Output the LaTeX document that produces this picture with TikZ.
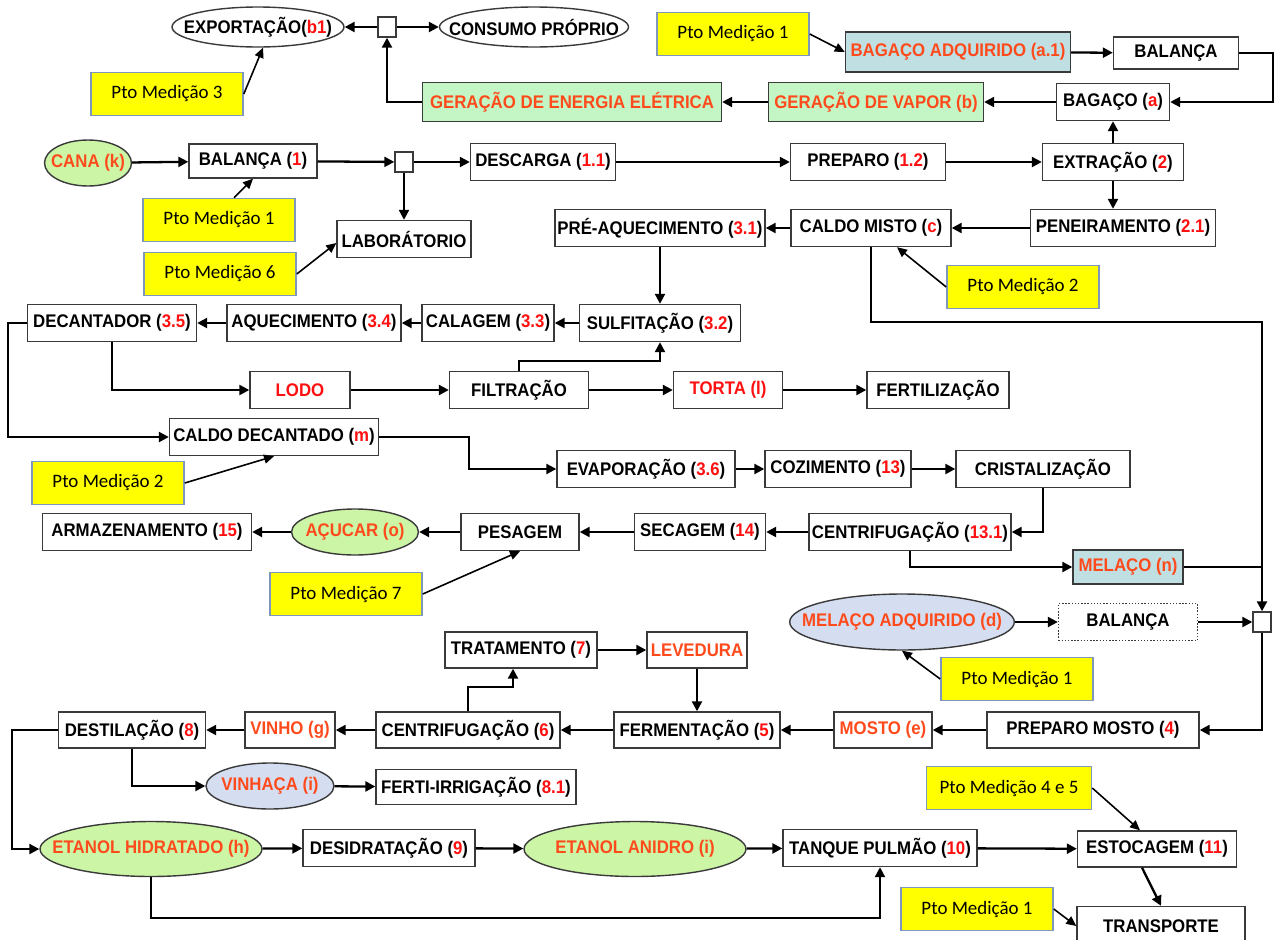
\documentclass[tikz,border=0pt]{standalone}
\usepackage{fontspec}
\setmainfont{Liberation Sans}[FakeStretch=0.92]
\newfontfamily\ptofamily{Carlito}
\usepackage{tikz}
\usetikzlibrary{
arrows.meta,
shapes.geometric,
calc
}
\definecolor{USNLine}{HTML}{3A3A3A}
\definecolor{USNRed}{HTML}{FF1010}
\definecolor{USNOrange}{HTML}{FF4A1C}
\definecolor{USNGreenBG}{HTML}{C4F5C4}
\definecolor{USNLime}{HTML}{CCF5A6}
\definecolor{USNTeal}{HTML}{BFDFE3}
\definecolor{USNLav}{HTML}{D5DEF0}
\definecolor{USNYellow}{HTML}{FFFF00}
\definecolor{USNPtoEdge}{HTML}{7F97BD}
\newcommand{\usnfont}{\fontsize{10.4}{12}\selectfont\bfseries}
\newcommand{\rednum}[1]{\textcolor{USNRed}{#1}}
\tikzset{
usnbox/.style={draw=USNLine, line width=0.8pt, fill=white, inner sep=0pt, align=center,
  minimum height=0.74cm, font=\usnfont},
usngreen/.style={usnbox, fill=USNGreenBG, text=USNOrange},
usnteal/.style={usnbox, fill=USNTeal, text=USNOrange},
usnoval/.style={ellipse, draw=USNLine, line width=0.8pt, fill=USNLime, inner ysep=0pt,
  inner xsep=-0.41cm, minimum height=0.92cm, font=\usnfont, text=USNOrange},
usnlav/.style={usnoval, fill=USNLav},
usnpto/.style={draw=USNPtoEdge, line width=0.9pt, fill=USNYellow, inner sep=0pt,
  minimum width=3.04cm, minimum height=0.86cm, font=\ptofamily\fontsize{10.8}{12}\selectfont},
usnjun/.style={draw=USNLine, line width=0.8pt, fill=white, inner sep=0pt,
  minimum width=0.36cm, minimum height=0.4cm},
usnflow/.style={-{Triangle[length=2mm, width=2mm]}, line width=1.3pt, draw=black},
usnline/.style={line width=1.3pt, draw=black},
usnpoint/.style={-{Triangle[length=2mm, width=1.8mm]}, line width=0.9pt, draw=black}
}

\begin{document}
\begin{tikzpicture}[x=0.02cm, y=-0.02cm]
\useasboundingbox (0,0) rectangle (1275,940);

\node[usnoval, fill=white, text=black, minimum width=3.44cm, minimum height=0.8cm] (expo) at (258,27) {EXPORTAÇÃO(\rednum{b1})};
\node[usnjun] (junA) at (387,27) {};
\node[usnoval, fill=white, text=black, minimum width=3.78cm, minimum height=0.8cm] (consumo) at (534,27) {CONSUMO PRÓPRIO};
\node[usnpto] (pto3) at (167,94) {Pto Medição 3};
\node[usnpto] (ptoA) at (733,34) {Pto Medição 1};
\node[usnteal, minimum width=4.5cm, minimum height=0.8cm] (bagadq) at (958,52) {BAGAÇO ADQUIRIDO (a.1)};
\node[usnbox, minimum width=2.5cm, minimum height=0.64cm] (balA) at (1176,53) {BALANÇA};
\node[usngreen, minimum width=5.98cm, minimum height=0.78cm] (energia) at (572,102) {GERAÇÃO DE ENERGIA ELÉTRICA};
\node[usngreen, minimum width=4.3cm, minimum height=0.78cm] (vapor) at (876,102) {GERAÇÃO DE VAPOR (b)};
\node[usnbox, minimum width=2.26cm] (bagaco) at (1113,102) {BAGAÇO (\rednum{a})};

\node[usnoval, minimum width=1.74cm] (cana) at (88,163) {CANA (k)};
\node[usnbox, minimum width=2.56cm, minimum height=0.68cm] (balB) at (253,161) {BALANÇA (\rednum{1})};
\node[usnjun] (junB) at (404,162) {};
\node[usnbox, minimum width=2.9cm] (descarga) at (543,162) {DESCARGA (\rednum{1.1})};
\node[usnbox, minimum width=3.1cm] (preparo) at (868,162) {PREPARO (\rednum{1.2})};
\node[usnbox, minimum width=2.82cm] (extracao) at (1113,162) {EXTRAÇÃO (\rednum{2})};
\node[usnpto] (ptoB) at (219,220) {Pto Medição 1};
\node[usnbox, minimum width=2.68cm] (lab) at (404,239) {LABORÁTORIO};
\node[usnpto] (pto6) at (220,274) {Pto Medição 6};
\node[usnbox, minimum width=4.2cm] (preaq) at (660,228) {PRÉ-AQUECIMENTO (\rednum{3.1})};
\node[usnbox, minimum width=3.2cm] (caldomisto) at (871,228) {CALDO MISTO (\rednum{c})};
\node[usnbox, minimum width=3.7cm] (peneira) at (1123,228) {PENEIRAMENTO (\rednum{2.1})};
\node[usnpto] (ptoC) at (1023,287) {Pto Medição 2};

\node[usnbox, minimum width=3.38cm] (decant) at (112,323) {DECANTADOR (\rednum{3.5})};
\node[usnbox, minimum width=3.48cm] (aquec) at (314,323) {AQUECIMENTO (\rednum{3.4})};
\node[usnbox, minimum width=2.64cm] (calag) at (488,323) {CALAGEM (\rednum{3.3})};
\node[usnbox, minimum width=3.22cm] (sulf) at (660,323) {SULFITAÇÃO (\rednum{3.2})};
\node[usnbox, minimum width=2cm, text=USNRed] (lodo) at (300,390) {LODO};
\node[usnbox, minimum width=2.78cm] (filtr) at (519,390) {FILTRAÇÃO};
\node[usnbox, minimum width=2.18cm, text=USNRed] (torta) at (728,390) {TORTA (l)};
\node[usnbox, minimum width=2.84cm] (fertil) at (938,390) {FERTILIZAÇÃO};
\node[usnbox, minimum width=4.18cm] (caldodec) at (274,437) {CALDO DECANTADO (\rednum{m})};
\node[usnpto] (ptoD) at (108,483) {Pto Medição 2};
\node[usnbox, minimum width=3.56cm] (evap) at (646,469) {EVAPORAÇÃO (\rednum{3.6})};
\node[usnbox, minimum width=2.92cm] (cozim) at (838,469) {COZIMENTO (\rednum{13})};
\node[usnbox, minimum width=3.48cm] (crist) at (1043,469) {CRISTALIZAÇÃO};

\node[usnbox, minimum width=4.18cm] (armaz) at (147,532) {ARMAZENAMENTO (\rednum{15})};
\node[usnoval, minimum width=2.54cm] (acucar) at (355,532) {AÇUCAR (o)};
\node[usnbox, minimum width=2.36cm] (pesag) at (520,532) {PESAGEM};
\node[usnbox, minimum width=2.62cm] (secag) at (700,532) {SECAGEM (\rednum{14})};
\node[usnbox, minimum width=4.04cm] (centA) at (910,532) {CENTRIFUGAÇÃO (\rednum{13.1})};
\node[usnpto] (pto7) at (346,594) {Pto Medição 7};
\node[usnteal, minimum width=2.2cm, minimum height=0.68cm] (melaco) at (1128,567) {MELAÇO (n)};
\node[usnlav, minimum width=4.4cm, minimum height=1.12cm] (melacoadq) at (902,622) {MELAÇO ADQUIRIDO (d)};
\node[usnbox, densely dotted, minimum width=2.78cm] (balC) at (1128,622) {BALANÇA};
\node[usnjun] (junC) at (1262,622) {};
\node[usnpto] (ptoE) at (1017,679) {Pto Medição 1};

\node[usnbox, minimum width=3.04cm, minimum height=0.72cm] (tratam) at (521,650) {TRATAMENTO (\rednum{7})};
\node[usnbox, minimum width=2cm, minimum height=0.72cm, text=USNOrange] (levedura) at (697,650) {LEVEDURA};
\node[usnbox, minimum width=2.94cm, minimum height=0.72cm] (destil) at (132,730) {DESTILAÇÃO (\rednum{8})};
\node[usnbox, minimum width=1.8cm, minimum height=0.72cm, text=USNOrange] (vinho) at (290,730) {VINHO (g)};
\node[usnbox, minimum width=3.68cm, minimum height=0.72cm] (centB) at (468,730) {CENTRIFUGAÇÃO (\rednum{6})};
\node[usnbox, minimum width=3.32cm, minimum height=0.72cm] (ferment) at (697,730) {FERMENTAÇÃO (\rednum{5})};
\node[usnbox, minimum width=1.96cm, minimum height=0.72cm, text=USNOrange] (mosto) at (883,730) {MOSTO (e)};
\node[usnbox, minimum width=4.24cm, minimum height=0.72cm] (prepmosto) at (1093,730) {PREPARO MOSTO (\rednum{4})};
\node[usnlav, minimum width=2.56cm] (vinhaca) at (270,786) {VINHAÇA (i)};
\node[usnbox, minimum width=4cm, minimum height=0.7cm] (fertirr) at (476,787) {FERTI-IRRIGAÇÃO (\rednum{8.1})};
\node[usnpto, minimum width=3.3cm] (pto45) at (1009,788) {Pto Medição 4 e 5};

\node[usnoval, minimum width=4.44cm, minimum height=1.1cm] (etanolh) at (151,849) {ETANOL HIDRATADO (h)};
\node[usnbox, minimum width=3.44cm] (desidr) at (389,848) {DESIDRATAÇÃO (\rednum{9})};
\node[usnoval, minimum width=4.44cm, minimum height=1.1cm] (etanola) at (635,849) {ETANOL ANIDRO (i)};
\node[usnbox, minimum width=3.88cm] (tanque) at (880,848) {TANQUE PULMÃO (\rednum{10})};
\node[usnbox, minimum width=3.18cm, minimum height=0.72cm] (estoc) at (1157,849) {ESTOCAGEM (\rednum{11})};
\node[usnpto] (ptoF) at (977,909) {Pto Medição 1};
\node[usnbox, minimum width=3.36cm, minimum height=0.78cm] (transp) at (1161,926) {TRANSPORTE};

\coordinate (bendC) at (1262,322);

\draw[usnflow] (junA) -- (expo);
\draw[usnflow] (junA) -- (consumo);
\draw[usnflow] (energia.west) -| (junA.south);
\draw[usnpoint] (pto3.east) -- ($(expo.south)+(5,0)$);
\draw[usnpoint] (ptoA.east) -- (bagadq.west);
\draw[usnflow] (bagadq) -- (balA);
\draw[usnflow] (balA.east) -- ++(34,0) |- (bagaco.east);
\draw[usnflow] (bagaco) -- (vapor);
\draw[usnflow] (vapor) -- (energia);

\draw[usnflow] (cana) -- (balB);
\draw[usnflow] (balB) -- (junB);
\draw[usnflow] (junB) -- (descarga);
\draw[usnflow] (junB) -- (lab);
\draw[usnpoint] ($(ptoB.north)+(15,0)$) -- (balB.south);
\draw[usnpoint] (pto6.east) -- ($(lab.west)+(0,4)$);
\draw[usnflow] (descarga) -- (preparo);
\draw[usnflow] (preparo) -- (extracao);
\draw[usnflow] (extracao) -- (bagaco);
\draw[usnflow] (extracao.south) -- (extracao.south |- peneira.north);
\draw[usnflow] (peneira) -- (caldomisto);
\draw[usnflow] (caldomisto) -- (preaq);
\draw[usnflow] (preaq) -- (sulf);
\draw[usnpoint] (ptoC.west) -- ($(caldomisto.south)+(26,0)$);
\draw[usnflow] (caldomisto.south) |- (bendC) -- (junC.north);

\draw[usnflow] (sulf) -- (calag);
\draw[usnflow] (calag) -- (aquec);
\draw[usnflow] (aquec) -- (decant);
\draw[usnflow] (decant.south) |- (lodo.west);
\draw[usnflow] (lodo) -- (filtr);
\draw[usnflow] (filtr.north) -- ++(0,-10) -| (sulf.south);
\draw[usnflow] (filtr) -- (torta);
\draw[usnflow] (torta) -- (fertil);
\draw[usnflow] (decant.west) -- ++(-19,0) |- (caldodec.west);
\draw[usnflow] (caldodec.east) -- ++(90,0) |- (evap.west);
\draw[usnpoint] (ptoD.east) -- (caldodec.south);
\draw[usnflow] (evap) -- (cozim);
\draw[usnflow] (cozim) -- (crist);
\draw[usnflow] (crist.south) |- (centA.east);

\draw[usnflow] (centA) -- (secag);
\draw[usnflow] (secag) -- (pesag);
\draw[usnflow] (pesag) -- (acucar);
\draw[usnflow] (acucar) -- (armaz);
\draw[usnpoint] (pto7.east) -- (pesag.south);
\draw[usnflow] (centA.south) |- (melaco.west);
\draw[usnline] (melaco.east) -- (melaco.east -| junC);
\draw[usnflow] (melacoadq) -- (balC);
\draw[usnflow] (balC) -- (junC);
\draw[usnpoint] (ptoE.west) -- (melacoadq.south);
\draw[usnflow] (junC.south) |- (prepmosto.east);

\draw[usnflow] (prepmosto) -- (mosto);
\draw[usnflow] (mosto) -- (ferment);
\draw[usnflow] (levedura) -- (ferment);
\draw[usnflow] (tratam) -- (levedura);
\draw[usnflow] (centB.north) -- ++(0,-24) -| ($(tratam.south)+(-8,0)$);
\draw[usnflow] (ferment) -- (centB);
\draw[usnflow] (centB) -- (vinho);
\draw[usnflow] (vinho) -- (destil);
\draw[usnflow] (destil.south) |- (vinhaca.west);
\draw[usnflow] (vinhaca) -- (fertirr);
\draw[usnflow] (destil.west) -- ++(-46,0) |- (etanolh.west);

\draw[usnflow] (etanolh) -- (desidr);
\draw[usnflow] (desidr) -- (etanola);
\draw[usnflow] (etanola) -- (tanque);
\draw[usnflow] (tanque) -- (estoc);
\draw[usnflow] (etanolh.south) -- ++(0,41) -| (tanque.south);
\draw[usnpoint] (pto45.east) -- ($(estoc.north)+(-17,0)$);
\draw[usnflow] ($(estoc.south)+(-15,0)$) -- (transp.north);
\draw[usnpoint] (ptoF.east) -- (transp.west);
\end{tikzpicture}
\end{document}
